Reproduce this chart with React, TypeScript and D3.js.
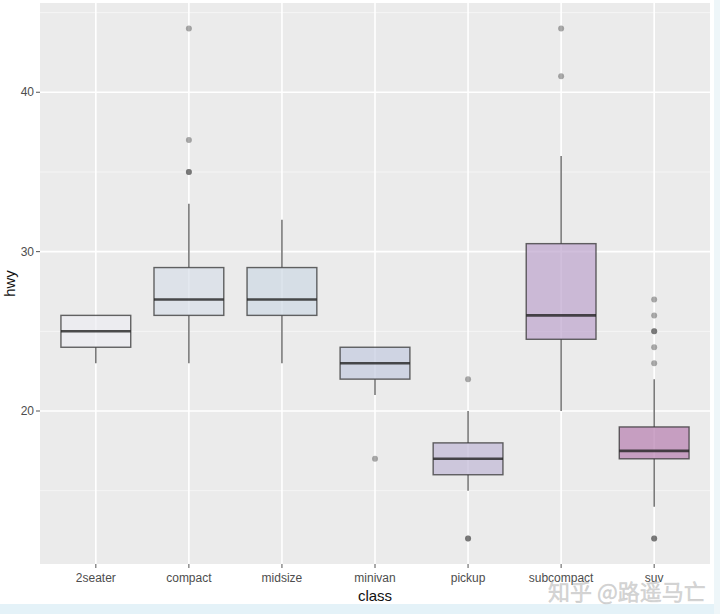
import React from "react";
import * as d3 from "d3";

const categories = ["2seater", "compact", "midsize", "minivan", "pickup", "subcompact", "suv"];
const q1 = [24, 26, 26, 22, 16, 24.5, 17];
const medians = [25, 27, 27, 23, 17, 26, 17.5];
const q3 = [26, 29, 29, 24, 18, 30.5, 19];
const whiskerLow = [23, 23, 23, 21, 15, 20, 14];
const whiskerHigh = [26, 33, 32, 24, 20, 36, 22];
const outliers: number[][] = [
  [],
  [44, 37, 35, 35],
  [],
  [17],
  [22, 12, 12],
  [44, 41],
  [27, 26, 25, 25, 24, 23, 12, 12],
];
const fills = ["#ecedf2", "#d7dee8", "#cdd8e4", "#c3cae0", "#c0b8d6", "#bda4cd", "#b67eaf"];
const majorTicks = [20, 30, 40];
const minorTicks = [15, 25, 35, 45];

const W = 720;
const H = 614;
const panel = { left: 40, right: 710, top: 3, bottom: 564 };

export default function App() {
  const x = d3
    .scaleBand<string>()
    .domain(categories)
    .range([panel.left, panel.right])
    .paddingInner(0)
    .paddingOuter(0.1);
  const y = d3.scaleLinear().domain([10.4, 45.6]).range([panel.bottom, panel.top]);
  const bw = x.bandwidth() * 0.75;
  const font = "'Liberation Sans', Arial, sans-serif";

  return (
    <svg
      width={W}
      height={H}
      style={{ position: "absolute", left: 0, top: 0, background: "#fff" }}
    >
      <rect x={0} y={0} width={W} height={H} fill="#fff" />
      <rect x={0} y={604} width={W} height={10} fill="#e4f2f8" />
      <rect x={714} y={0} width={6} height={H} fill="#eef6f9" />
      <rect
        x={panel.left}
        y={panel.top}
        width={panel.right - panel.left}
        height={panel.bottom - panel.top}
        fill="#ebebeb"
      />
      {minorTicks.map((t) => (
        <line
          key={"mi" + t}
          x1={panel.left}
          x2={panel.right}
          y1={y(t)}
          y2={y(t)}
          stroke="#f5f5f5"
          strokeWidth={1}
        />
      ))}
      {majorTicks.map((t) => (
        <line
          key={"ma" + t}
          x1={panel.left}
          x2={panel.right}
          y1={y(t)}
          y2={y(t)}
          stroke="#ffffff"
          strokeWidth={1.6}
        />
      ))}
      {categories.map((c) => {
        const cx = (x(c) as number) + x.bandwidth() / 2;
        return (
          <line
            key={"vg" + c}
            x1={cx}
            x2={cx}
            y1={panel.top}
            y2={panel.bottom}
            stroke="#ffffff"
            strokeWidth={1.6}
          />
        );
      })}
      {categories.map((c, i) => {
        const cx = (x(c) as number) + x.bandwidth() / 2;
        return (
          <g key={"box" + c}>
            <line
              x1={cx}
              x2={cx}
              y1={y(q3[i])}
              y2={y(whiskerHigh[i])}
              stroke="#333"
              strokeOpacity={0.8}
              strokeWidth={1.3}
            />
            <line
              x1={cx}
              x2={cx}
              y1={y(q1[i])}
              y2={y(whiskerLow[i])}
              stroke="#333"
              strokeOpacity={0.8}
              strokeWidth={1.3}
            />
            <rect
              x={cx - bw / 2}
              y={y(q3[i])}
              width={bw}
              height={y(q1[i]) - y(q3[i])}
              fill={fills[i]}
              fillOpacity={0.7}
              stroke="#333"
              strokeOpacity={0.75}
              strokeWidth={1.4}
            />
            <line
              x1={cx - bw / 2}
              x2={cx + bw / 2}
              y1={y(medians[i])}
              y2={y(medians[i])}
              stroke="#222"
              strokeOpacity={0.8}
              strokeWidth={2.6}
            />
            {outliers[i].map((v, j) => (
              <circle key={j} cx={cx} cy={y(v)} r={3} fill="#333" fillOpacity={0.4} />
            ))}
          </g>
        );
      })}
      {majorTicks.map((t) => (
        <g key={"yt" + t}>
          <line x1={panel.left - 4} x2={panel.left} y1={y(t)} y2={y(t)} stroke="#555" strokeWidth={1} />
          <text
            x={panel.left - 6}
            y={y(t)}
            dy="0.35em"
            textAnchor="end"
            fontFamily={font}
            fontSize={12}
            fill="#4d4d4d"
          >
            {t}
          </text>
        </g>
      ))}
      {categories.map((c) => {
        const cx = (x(c) as number) + x.bandwidth() / 2;
        return (
          <g key={"xt" + c}>
            <line x1={cx} x2={cx} y1={panel.bottom} y2={panel.bottom + 4} stroke="#555" strokeWidth={1} />
            <text
              x={cx}
              y={582}
              textAnchor="middle"
              fontFamily={font}
              fontSize={12}
              fill="#4d4d4d"
            >
              {c}
            </text>
          </g>
        );
      })}
      <text
        x={375}
        y={601}
        textAnchor="middle"
        fontFamily={font}
        fontSize={15}
        fill="#111"
      >
        class
      </text>
      <text
        transform={`translate(15,${(panel.top + panel.bottom) / 2}) rotate(-90)`}
        textAnchor="middle"
        fontFamily={font}
        fontSize={15}
        fill="#111"
      >
        hwy
      </text>
      <text
        x={548}
        y={600}
        fontFamily="'Noto Sans CJK SC', sans-serif"
        fontSize={22}
        fill="#d0d0d0"
        fillOpacity={0.85}
        stroke="#b8b8b8"
        strokeOpacity={0.5}
        strokeWidth={0.6}
      >
        知乎 @路遥马亡
      </text>
    </svg>
  );
}
